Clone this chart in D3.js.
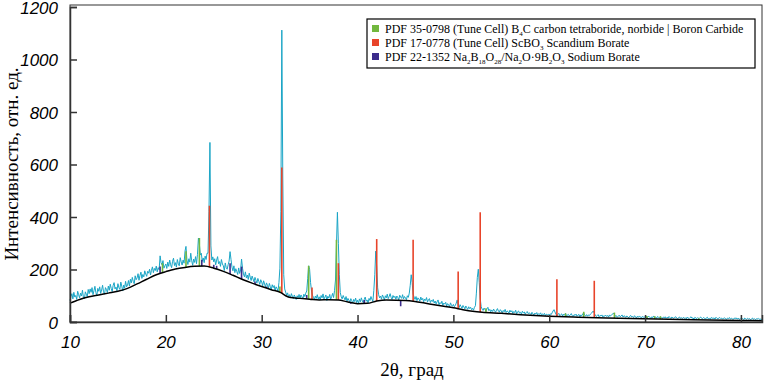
<!DOCTYPE html>
<html>
<head>
<meta charset="utf-8">
<script src="https://cdnjs.cloudflare.com/ajax/libs/d3/7.8.5/d3.min.js"></script>
<style>
  body { margin: 0; background: #fff; }
</style>
</head>
<body>
<svg id="chart" width="765" height="381"></svg>
<script>
// measured pattern, one value every 0.1 deg starting at 10 deg (20 values per row = 2 deg)
var thetaStart = 10, thetaStep = 0.1;
var counts = [
  82, 97, 108, 88, 113, 95, 101, 86, 117, 104, 92, 110, 99, 121, 94, 88, 115, 106, 97, 124,              // 10
  108, 126, 113, 131, 104, 119, 136, 112, 101, 128, 117, 134, 109, 122, 140, 115, 106, 131, 124, 112,    // 12
  137, 121, 144, 128, 116, 139, 150, 126, 133, 119, 146, 131, 124, 152, 137, 118, 141, 129, 155, 134,    // 14
  140, 158, 137, 163, 149, 170, 155, 146, 176, 161, 168, 184, 159, 177, 190, 166, 181, 172, 195, 183,    // 16
  174, 193, 186, 201, 179, 197, 210, 188, 204, 196, 213, 191, 207, 199, 252, 226, 218, 234, 205, 214,    // 18
  221, 204, 228, 212, 236, 218, 207, 231, 243, 215, 226, 209, 238, 222, 214, 245, 229, 217, 236, 224,    // 20
  270, 288, 236, 219, 241, 228, 262, 233, 216, 240, 227, 249, 222, 258, 320, 296, 255, 262, 231, 244,    // 22
  226, 251, 238, 262, 262, 420, 684, 290, 236, 248, 229, 241, 218, 236, 249, 222, 230, 212, 238, 221,    // 24
  214, 196, 225, 207, 201, 218, 232, 268, 238, 209, 195, 214, 188, 203, 192, 181, 206, 185, 198, 240,    // 26
  205, 183, 172, 191, 168, 179, 162, 186, 171, 158, 175, 164, 153, 170, 159, 148, 166, 155, 143, 161,    // 28
  152, 138, 157, 145, 133, 149, 140, 128, 147, 135, 124, 142, 131, 139, 120, 134, 127, 118, 150, 205,    // 30
  420, 1112, 560, 180, 126, 114, 102, 111, 96, 104, 92, 108, 98, 89, 103, 95, 86, 100, 93, 105,          // 32
  91, 103, 96, 88, 106, 97, 110, 118, 165, 214, 200, 150, 118, 102, 94, 85, 99, 90, 104, 87,             // 34
  96, 84, 101, 92, 107, 88, 95, 103, 82, 98, 91, 105, 86, 97, 109, 93, 120, 160, 290, 418,               // 36
  300, 180, 112, 96, 88, 101, 92, 84, 97, 79, 90, 83, 76, 89, 81, 72, 86, 78, 91, 74,                    // 38
  83, 71, 88, 77, 92, 80, 74, 86, 95, 79, 84, 73, 90, 82, 97, 87, 78, 120, 180, 270,                     // 40
  210, 130, 104, 92, 99, 87, 103, 95, 84, 100, 92, 106, 89, 97, 108, 94, 86, 101, 93, 98,                // 42
  87, 99, 93, 84, 102, 95, 90, 104, 88, 97, 92, 85, 100, 94, 110, 140, 180, 150, 106, 95,                // 44
  86, 97, 81, 92, 88, 79, 95, 84, 90, 77, 87, 82, 93, 76, 85, 89, 74, 83, 78, 86,                        // 46
  72, 80, 69, 77, 84, 66, 74, 70, 79, 63, 72, 68, 75, 61, 70, 66, 58, 73, 64, 60,                        // 48
  67, 58, 63, 72, 84, 62, 55, 66, 59, 52, 63, 57, 50, 61, 54, 48, 58, 51, 56, 47,                        // 50
  52, 45, 56, 62, 110, 170, 201, 150, 90, 58, 49, 44, 53, 47, 41, 50, 56, 43, 48, 39,                    // 52
  46, 40, 49, 43, 37, 45, 51, 41, 38, 47, 42, 35, 44, 39, 48, 36, 42, 40, 34, 45,                        // 54
  38, 43, 33, 40, 36, 45, 31, 39, 42, 34, 37, 30, 41, 35, 38, 29, 36, 40, 32, 35,                        // 56
  33, 28, 37, 31, 26, 34, 30, 36, 27, 32, 29, 35, 25, 31, 28, 33, 24, 30, 27, 29,                        // 58
  26, 31, 28, 35, 42, 47, 38, 30, 25, 29, 33, 24, 28, 31, 23, 30, 26, 33, 22, 27,                        // 60
  29, 23, 27, 32, 24, 21, 28, 25, 30, 22, 26, 29, 20, 27, 24, 31, 35, 26, 23, 28,                        // 62
  22, 27, 25, 30, 33, 38, 42, 34, 26, 21, 24, 28, 20, 25, 23, 27, 19, 24, 22, 26,                        // 64
  21, 25, 19, 27, 23, 26, 30, 34, 29, 22, 24, 18, 22, 26, 20, 23, 27, 19, 24, 21,                        // 66
  18, 23, 20, 16, 22, 25, 19, 21, 17, 24, 20, 15, 22, 18, 23, 19, 16, 21, 18, 20,                        // 68
  17, 21, 15, 19, 22, 18, 14, 20, 17, 23, 16, 19, 14, 21, 18, 15, 20, 17, 13, 19,                        // 70
  16, 20, 14, 18, 15, 21, 17, 13, 19, 16, 14, 18, 20, 15, 12, 17, 19, 14, 16, 13,                        // 72
  18, 14, 16, 12, 19, 15, 13, 17, 20, 14, 16, 11, 18, 15, 13, 17, 12, 16, 19, 14,                        // 74
  13, 17, 15, 11, 16, 18, 12, 14, 10, 17, 15, 13, 16, 11, 18, 14, 12, 15, 17, 13,                        // 76
  15, 11, 14, 16, 12, 10, 15, 13, 17, 11, 14, 12, 9, 15, 13, 16, 11, 14, 12, 10,                         // 78
  14, 11, 13, 9, 15, 12, 10, 14, 11, 13, 8, 12, 15, 10, 13, 9, 12, 11, 14, 10,                           // 80
  12, 9, 11                                                                                              // 82
];

// fitted background (black line)
var bgTheta  = [10, 11, 12, 13, 14, 15, 16, 17, 18, 19, 20, 21, 22, 23, 24, 25, 26, 27, 28, 29, 30, 31, 32, 32.5, 33, 34, 35, 36, 37, 38, 39, 40, 41, 42, 43, 45, 46, 47, 48, 49, 50, 51, 52, 53, 55, 57, 60, 63, 66, 70, 75, 80, 82.2];
var bgCounts = [72, 86, 96, 103, 110, 117, 128, 145, 163, 180, 192, 202, 208, 212, 213, 205, 193, 178, 162, 148, 135, 123, 112, 100, 93, 90, 87, 84, 85, 84, 76, 70, 71, 80, 84, 82, 78, 72, 66, 60, 54, 47, 41, 37, 33, 28, 22, 18, 15, 12, 9, 6, 5];

// reference patterns (stick lines)
var b4cPos = [19.65, 22.1, 23.5, 31.9, 34.9, 37.8, 53.4, 61.7, 63.6, 66.8, 70.2, 71.0, 71.6, 75.6];
var b4cInt = [224, 270, 320, 135, 214, 313, 52, 33, 39, 36, 23, 22, 22, 14];
var scbo3Pos = [24.55, 32.1, 35.25, 38.0, 42.0, 45.8, 50.5, 52.8, 60.8, 64.7];
var scbo3Int = [443, 589, 131, 224, 316, 313, 192, 418, 163, 157];
var naboPos = [19.4, 23.75, 25.0, 25.3, 26.7, 27.9, 29.3, 30.5, 34.7, 39.3, 40.7, 44.5];
var naboInt = [211, 237, 218, 214, 224, 211, 154, 135, 103, 70, 84, 60];

var xTicks = [10, 20, 30, 40, 50, 60, 70, 80];
var yTicks = [0, 200, 400, 600, 800, 1000, 1200];

var legendColors = ['#72b83e', '#e8442a', '#3c2c8c'];
var legendParts = [
  [['PDF 35-0798 (Tune Cell) B', 0], ['4', 1], ['C carbon tetraboride, norbide | Boron Carbide', 0]],
  [['PDF 17-0778 (Tune Cell) ScBO', 0], ['3', 1], [' Scandium Borate', 0]],
  [['PDF 22-1352 Na', 0], ['2', 1], ['B', 0], ['18', 1], ['O', 0], ['28', 1], ['/Na', 0], ['2', 1], ['O\u00b79B', 0], ['2', 1], ['O', 0], ['3', 1], [' Sodium Borate', 0]]
];

var plotLeft = 70, plotRight = 762, plotTop = 7, plotBottom = 322;
var svg = d3.select('#chart');

var x = d3.scaleLinear().domain([10, 82.2]).range([plotLeft, plotRight]);
var y = d3.scaleLinear().domain([0, 1200]).range([plotBottom, plotTop]);
var bg = d3.scaleLinear().domain(bgTheta).range(bgCounts);

// measured curve
svg.append('path')
  .datum(counts)
  .attr('fill', 'none')
  .attr('stroke', '#1aa5c6')
  .attr('stroke-width', 1)
  .attr('d', d3.line()
    .x(function (d, i) { return x(thetaStart + i * thetaStep); })
    .y(function (d) { return y(d); }));

// stick patterns
function sticks(pos, ints, color) {
  svg.append('g').selectAll('line')
    .data(pos)
    .enter()
    .append('line')
    .attr('x1', function (d) { return x(d); })
    .attr('x2', function (d) { return x(d); })
    .attr('y1', function (d) { return y(bg(d)); })
    .attr('y2', function (d, i) { return y(ints[i]); })
    .attr('stroke', color)
    .attr('stroke-width', 1.6);
}
sticks(naboPos, naboInt, legendColors[2]);
sticks(b4cPos, b4cInt, legendColors[0]);
sticks(scbo3Pos, scbo3Int, legendColors[1]);

// background line
svg.append('path')
  .datum(bgTheta)
  .attr('fill', 'none')
  .attr('stroke', '#000')
  .attr('stroke-width', 1.5)
  .attr('d', d3.line()
    .curve(d3.curveMonotoneX)
    .x(function (d) { return x(d); })
    .y(function (d, i) { return y(bgCounts[i]); }));

// frame
svg.append('rect')
  .attr('x', plotLeft).attr('y', plotTop - 2)
  .attr('width', plotRight - plotLeft).attr('height', plotBottom - plotTop + 2)
  .attr('fill', 'none').attr('stroke', '#333').attr('stroke-width', 1);

var xAxis = svg.append('g')
  .attr('transform', 'translate(0,' + plotBottom + ')')
  .call(d3.axisBottom(x).tickValues(xTicks).tickSize(-7).tickPadding(14).tickFormat(d3.format('d')));
var yAxis = svg.append('g')
  .attr('transform', 'translate(' + plotLeft + ',0)')
  .call(d3.axisLeft(y).tickValues(yTicks).tickSize(-7).tickPadding(12).tickFormat(d3.format('d')));

[xAxis, yAxis].forEach(function (a) {
  a.select('.domain').attr('stroke', '#333').attr('stroke-width', 1.5);
  a.selectAll('.tick line').attr('stroke', '#333').attr('stroke-width', 1.5);
  a.selectAll('.tick text')
    .attr('fill', '#000')
    .style('font-family', '"Liberation Sans", Arial, sans-serif')
    .style('font-style', 'italic')
    .style('font-size', '17px');
});
yAxis.selectAll('.tick text').attr('dy', '0.36em');

// axis titles
svg.append('text')
  .attr('x', 412).attr('y', 376)
  .attr('text-anchor', 'middle')
  .style('font-family', '"Liberation Serif", "Times New Roman", serif')
  .style('font-size', '19px')
  .text('2\u03b8, \u0433\u0440\u0430\u0434');

svg.append('text')
  .attr('transform', 'translate(18,164) rotate(-90)')
  .attr('text-anchor', 'middle')
  .style('font-family', '"Liberation Serif", "Times New Roman", serif')
  .style('font-size', '19px')
  .text('\u0418\u043d\u0442\u0435\u043d\u0441\u0438\u0432\u043d\u043e\u0441\u0442\u044c, \u043e\u0442\u043d. \u0435\u0434.');

// legend
var lg = svg.append('g');
lg.append('rect')
  .attr('x', 367).attr('y', 19).attr('width', 388).attr('height', 49)
  .attr('fill', '#fff').attr('stroke', '#000').attr('stroke-width', 1.2);

legendParts.forEach(function (parts, r) {
  var cy = 29 + r * 14;
  lg.append('rect')
    .attr('x', 372).attr('y', cy - 4).attr('width', 7).attr('height', 7)
    .attr('fill', legendColors[r]);
  var t = lg.append('text')
    .attr('x', 385).attr('y', cy + 4)
    .style('font-family', '"Liberation Serif", "Times New Roman", serif')
    .style('font-size', '12px');
  var shifted = false;
  parts.forEach(function (p) {
    var s = t.append('tspan').text(p[0]);
    if (p[1] && !shifted) { s.attr('dy', 2.5).style('font-size', '7px'); shifted = true; }
    else if (p[1]) { s.style('font-size', '7px'); }
    else if (shifted) { s.attr('dy', -2.5); shifted = false; }
  });
});
</script>
</body>
</html>
